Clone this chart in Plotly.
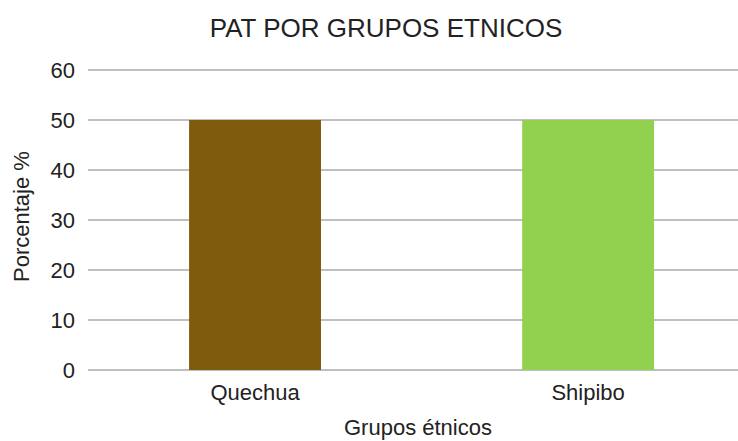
import plotly.graph_objects as go

categories = ["Quechua", "Shipibo"]
values = [50, 50]
colors = ["#7F5B0D", "#92D050"]
y_ticks = [0, 10, 20, 30, 40, 50, 60]

fig = go.Figure(go.Bar(x=categories, y=values, marker=dict(color=colors, line=dict(width=0)), width=0.396))

FONT = "Liberation Sans, Arial, Helvetica, sans-serif"
W, H = 738, 441
L, R, T, B = 88, 0, 67, 68
fig.update_layout(
    width=W, height=H,
    margin=dict(l=L, r=R, t=T, b=B),
    paper_bgcolor="white", plot_bgcolor="white",
    showlegend=False,
    font=dict(family=FONT, color="#222222", size=22),
    title=dict(text="PAT POR GRUPOS ETNICOS", x=386/W, xref="container", xanchor="center",
               y=1 - 28/H, yref="container", yanchor="middle",
               font=dict(size=26, family=FONT, color="#222222")),
    xaxis=dict(range=[-0.5015, 1.45], showgrid=False, zeroline=False, showline=False,
               ticks="", tickfont=dict(size=22), ticklabelstandoff=4),
    yaxis=dict(range=[-0.6, 60.6], tickvals=y_ticks, showgrid=True, gridcolor="#BFBFBF", gridwidth=1.5,
               zeroline=False, showline=False, ticks="", tickfont=dict(size=22), ticklabelstandoff=12),
)
pw = W - L - R
ph = H - T - B
fig.add_annotation(text="Porcentaje %", x=(21 - L) / pw, y=(H - B - 217) / ph, xref="paper", yref="paper",
                   showarrow=False, textangle=-90, font=dict(size=22, family=FONT, color="#222222"),
                   xanchor="center", yanchor="middle")
fig.add_annotation(text="Grupos étnicos", x=(418 - L) / pw, y=(H - B - 427) / ph, xref="paper", yref="paper",
                   showarrow=False, font=dict(size=22, family=FONT, color="#222222"),
                   xanchor="center", yanchor="middle")

fig.write_html("out.html")
